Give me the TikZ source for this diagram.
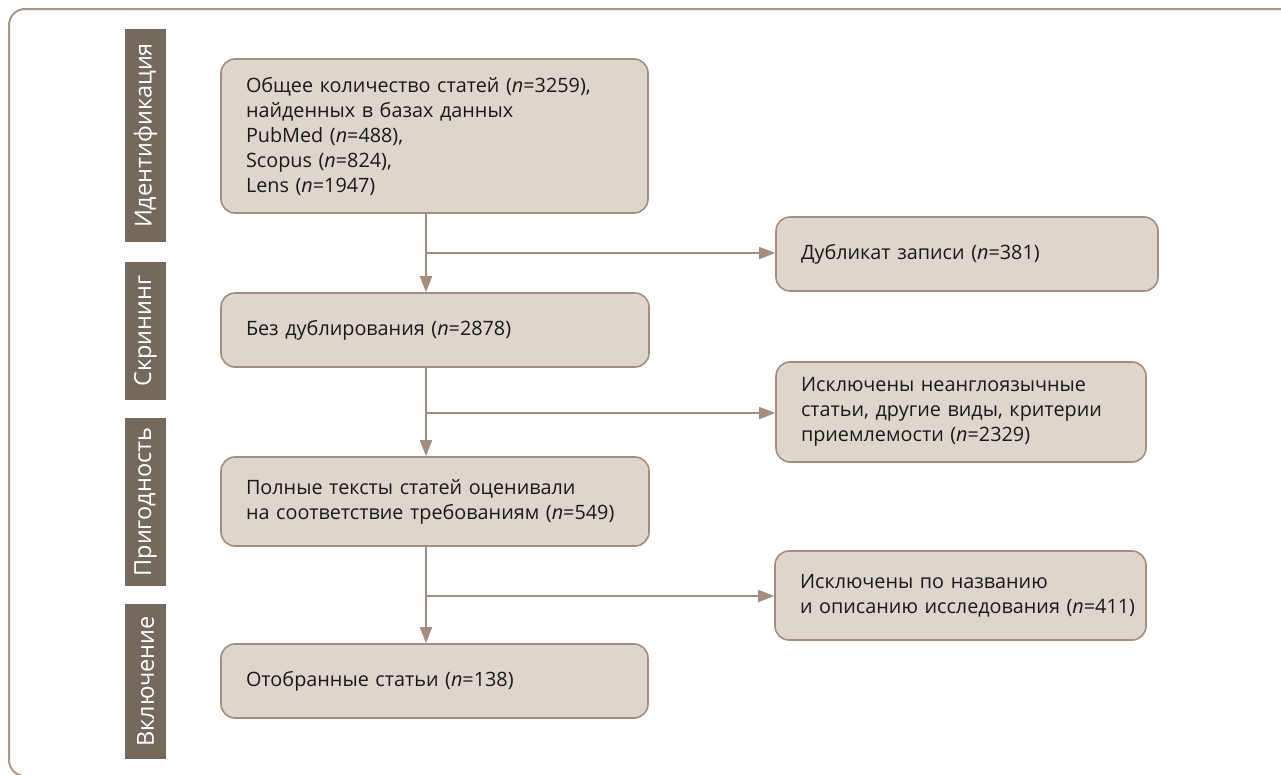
\documentclass[tikz,border=0pt]{standalone}
\usepackage{fontspec}
\setmainfont{Open Sans}
\usetikzlibrary{arrows.meta}
\definecolor{edgec}{RGB}{163,141,127}
\definecolor{boxfill}{RGB}{222,214,205}
\definecolor{labfill}{RGB}{117,104,92}
\definecolor{frameC}{RGB}{170,152,140}
\tikzset{
  flowbox/.style={draw=edgec, line width=1.6pt, fill=boxfill, rounded corners=14pt,
    align=left, inner xsep=25pt, inner ysep=0pt, font=\fontsize{19.8}{25}\selectfont,
    text=black!90},
  sidelab/.style={fill=labfill, rotate=90, minimum height=41pt, inner sep=0pt,
    text=white, font=\fontsize{23.5}{26}\selectfont},
  arr/.style={draw=edgec, line width=1.8pt, -{Triangle[length=16pt,width=12pt]}},
}
\begin{document}
\begin{tikzpicture}[x=1pt,y=-1pt]
\useasboundingbox (0,0) rectangle (1281,774);
\begin{scope}
\clip (0,0) rectangle (1281,774);
\draw[frameC, line width=2pt, rounded corners=16pt] (9,9) rectangle (1310,776);
\end{scope}

% side labels
\node[sidelab, minimum width=213pt] (l1) at (145.5,135.5) {Идентификация};
\node[sidelab, minimum width=138pt] (l2) at (145.5,331) {Скрининг};
\node[sidelab, minimum width=168pt] (l3) at (145.5,502) {Пригодность};
\node[sidelab, minimum width=155pt] (l4) at (145.5,681.5) {Включение};

% left boxes
\node[flowbox, text width=377pt, minimum height=154pt] (b1) at (434.5,136)
 {Общее количество статей (\textit{n}=3259),\\найденных в базах данных\\PubMed (\textit{n}=488),\\Scopus (\textit{n}=824),\\Lens (\textit{n}=1947)};
\node[flowbox, text width=378pt, minimum height=74pt] (b2) at (435,330)
 {Без дублирования (\textit{n}=2878)};
\node[flowbox, text width=378pt, minimum height=89pt] (b3) at (435,501.5)
 {Полные тексты статей оценивали\\на соответствие требованиям (\textit{n}=549)};
\node[flowbox, text width=377pt, minimum height=74pt] (b4) at (434.5,681)
 {Отобранные статьи (\textit{n}=138)};

% right boxes
\node[flowbox, text width=332pt, minimum height=74pt] (r1) at (967,254)
 {Дубликат записи (\textit{n}=381)};
\node[flowbox, text width=320pt, minimum height=100pt] (r2) at (961,412)
 {Исключены неанглоязычные\\статьи, другие виды, критерии\\приемлемости (\textit{n}=2329)};
\node[flowbox, text width=321pt, minimum height=89pt] (r3) at (960.5,595.5)
 {Исключены по названию\\\mbox{и описанию исследования (\textit{n}=411)}};

% connectors
\coordinate (j1) at (426,253);
\coordinate (j2) at (426,413);
\coordinate (j3) at (426,596);
\draw[arr] (j1 |- b1.south) -- (j1 |- b2.north);
\draw[arr] (j1) -- (j1 -| r1.west);
\draw[arr] (j2 |- b2.south) -- (j2 |- b3.north);
\draw[arr] (j2) -- (j2 -| r2.west);
\draw[arr] (j3 |- b3.south) -- (j3 |- b4.north);
\draw[arr] (j3) -- (j3 -| r3.west);
\end{tikzpicture}
\end{document}
